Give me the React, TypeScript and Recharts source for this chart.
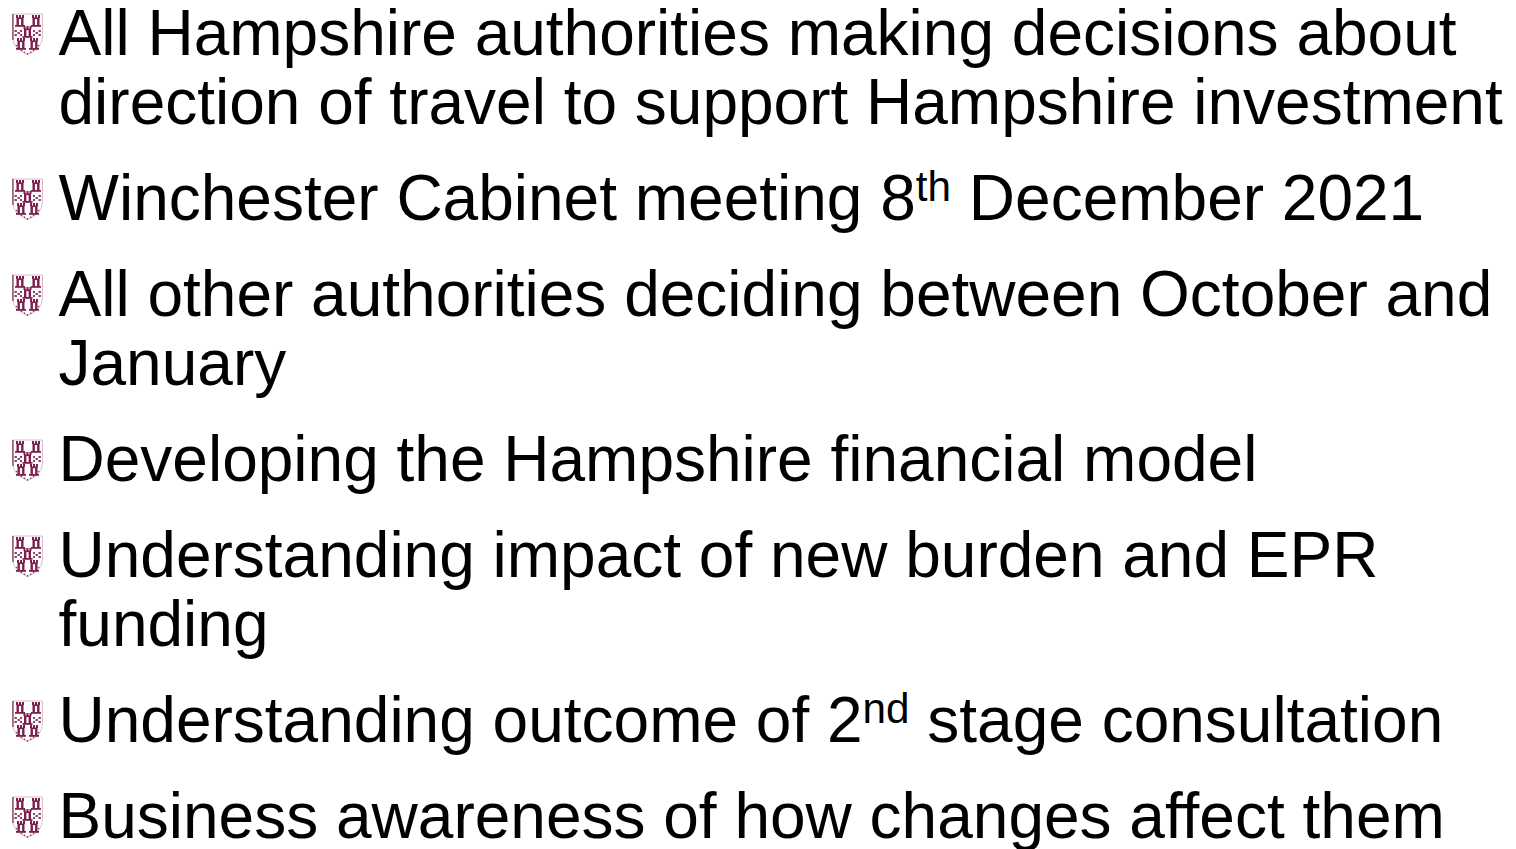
import { ScatterChart, Scatter, XAxis, YAxis } from "recharts";

const WIDTH = 1516;
const HEIGHT = 849;
const FONT_SIZE = 64;

// one entry per bullet, one string per wrapped line; ^ marks superscript
const paragraphs = [
  ["All Hampshire authorities making decisions about", "direction of travel to support Hampshire investment"],
  ["Winchester Cabinet meeting 8^th^ December 2021"],
  ["All other authorities deciding between October and", "January"],
  ["Developing the Hampshire financial model"],
  ["Understanding impact of new burden and EPR", "funding"],
  ["Understanding outcome of 2^nd^ stage consultation"],
  ["Business awareness of how changes affect them"],
];

const LINE_PITCH = 69;
const PARAGRAPH_GAP = 27 / 69;
const FIRST_BASELINE = 55;

type Row = { x: number; slot: number; text: string };

const textRows: Row[] = [];
const bulletRows: Row[] = [];
let slot = 0;
paragraphs.forEach((lines) => {
  lines.forEach((text, i) => {
    textRows.push({ x: 58.5, slot, text });
    if (i === 0) bulletRows.push({ x: 28, slot, text: "" });
    slot += 1;
  });
  slot += PARAGRAPH_GAP;
});

const CRIMSON = "#7c1f4c";
const PALE = "#d9bcc9";

function Tower({ x, y }: { x: number; y: number }) {
  return (
    <g fill={CRIMSON}>
      <rect x={x - 4} y={y - 6} width={2} height={3} />
      <rect x={x - 1} y={y - 6} width={2} height={3} />
      <rect x={x + 2} y={y - 6} width={2} height={3} />
      <rect x={x - 3.5} y={y - 3.5} width={7} height={1.6} />
      <rect x={x - 3.5} y={y - 2} width={2.4} height={7} />
      <rect x={x + 1.1} y={y - 2} width={2.4} height={7} />
      <rect x={x - 5} y={y + 4} width={10} height={1.8} />
    </g>
  );
}

// shield bullet, drawn around the baseline of the line it belongs to
function ShieldBullet(props: any) {
  const { cx, cy } = props;
  const ox = cx - 28;
  const oy = cy - 55;
  return (
    <g transform={`translate(${ox},${oy})`}>
      <path
        d="M12.5 14 H42.5 V37 Q42 49 27.5 54.5 Q13 49 12.5 37 Z"
        fill="#ffffff"
        stroke={PALE}
        strokeWidth={1}
      />
      <path d="M13 14 V40" stroke={CRIMSON} strokeWidth={1.4} opacity={0.8} />
      <path d="M16 45 Q20 50 27.5 54 Q35 50 39 45" fill="none" stroke={CRIMSON} strokeWidth={1.2} strokeDasharray="1.5 2" />
      <Tower x={20} y={21} />
      <Tower x={36} y={21} />
      <Tower x={27.5} y={32} />
      <Tower x={21} y={44} />
      <Tower x={34} y={44} />
      <g fill={CRIMSON} opacity={0.85}>
        <rect x={14.5} y={30} width={2.4} height={2} />
        <rect x={17.5} y={32} width={2.4} height={2} />
        <rect x={14.5} y={34} width={2.4} height={2} />
        <rect x={20} y={30} width={2} height={2} />
        <rect x={20} y={34} width={2} height={2} />
        <rect x={33} y={30} width={2} height={2} />
        <rect x={33} y={34} width={2} height={2} />
        <rect x={35.5} y={32} width={2.4} height={2} />
        <rect x={38.5} y={30} width={2.4} height={2} />
        <rect x={38.5} y={34} width={2.4} height={2} />
      </g>
    </g>
  );
}

function LineText(props: any) {
  const { cx, cy, payload } = props;
  const parts: string[] = payload.text.split("^");
  return (
    <text
      x={cx}
      y={cy}
      fontFamily="'Liberation Sans', Arial, sans-serif"
      fontSize={FONT_SIZE}
      fill="#000000"
      xmlSpace="preserve"
    >
      {parts.map((part, i) =>
        i % 2 === 1 ? (
          <tspan key={i} fontSize={FONT_SIZE * 0.66} dy={-FONT_SIZE * 0.3}>
            {part}
          </tspan>
        ) : (
          <tspan key={i} dy={i > 0 ? FONT_SIZE * 0.3 : 0}>
            {part}
          </tspan>
        )
      )}
    </text>
  );
}

export default function App() {
  return (
    <div style={{ position: "absolute", left: 0, top: 0, width: WIDTH, height: HEIGHT, background: "#ffffff", overflow: "hidden" }}>
      <ScatterChart width={WIDTH} height={HEIGHT} margin={{ top: 0, right: 0, bottom: 0, left: 0 }}>
        <XAxis type="number" dataKey="x" domain={[0, WIDTH]} hide />
        <YAxis
          type="number"
          dataKey="slot"
          reversed
          domain={[-FIRST_BASELINE / LINE_PITCH, (HEIGHT - FIRST_BASELINE) / LINE_PITCH]}
          allowDataOverflow
          hide
        />
        <Scatter data={bulletRows} shape={ShieldBullet} isAnimationActive={false} />
        <Scatter data={textRows} shape={LineText} isAnimationActive={false} />
      </ScatterChart>
    </div>
  );
}
